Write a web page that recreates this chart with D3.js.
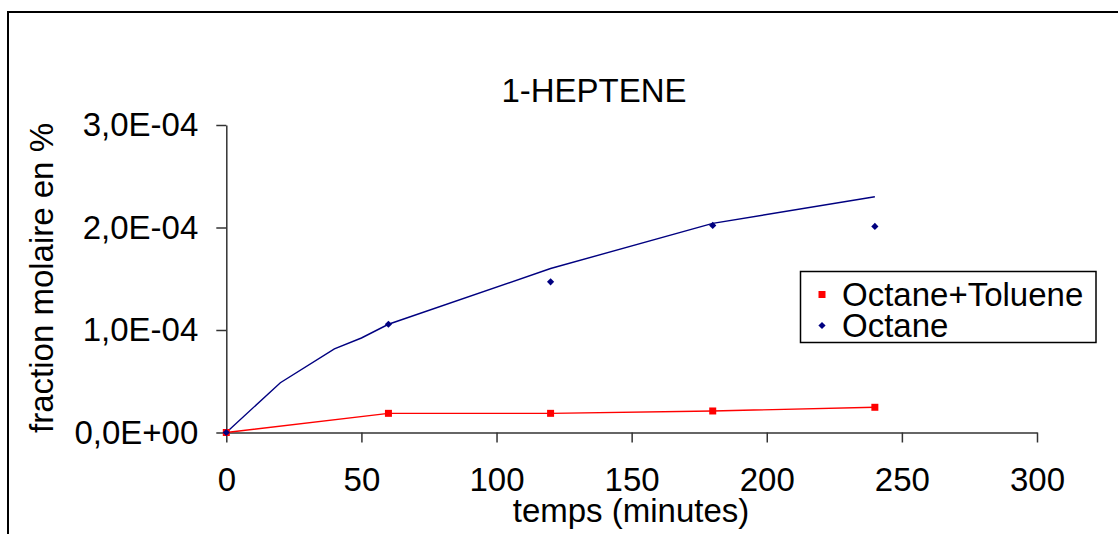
<!DOCTYPE html>
<html>
<head>
<meta charset="utf-8">
<script src="https://cdn.jsdelivr.net/npm/d3@7"></script>
<style>
  html, body { margin: 0; padding: 0; background: #fff; }
  svg { display: block; }
  text { font-family: "Liberation Sans", Arial, sans-serif; fill: #000; }
</style>
</head>
<body>
<svg id="chart" width="1118" height="534"></svg>
<script>
// ---- data ----
const chartTitle = "1-HEPTENE";
const xAxisTitle = "temps (minutes)";
const yAxisTitle = "fraction molaire en %";
const seriesNames = ["Octane+Toluene", "Octane"];

const timeMeasured = [0, 60, 120, 180, 240];
const octaneToluene = [0, 1.87e-5, 1.87e-5, 2.1e-5, 2.46e-5];
const octane = [0, 1.056e-4, 1.47e-4, 2.02e-4, 2.01e-4];

const modelTime = [0, 20, 40, 50, 60, 120, 180, 240];
const octaneModel = [0, 0.486e-4, 0.815e-4, 0.922e-4, 1.056e-4, 1.60e-4, 2.04e-4, 2.30e-4];

const xTickValues = [0, 50, 100, 150, 200, 250, 300];
const yTickValues = [0, 1e-4, 2e-4, 3e-4];
const yTickLabels = ["0,0E+00", "1,0E-04", "2,0E-04", "3,0E-04"];

// ---- drawing ----
const svg = d3.select("#chart");
const FONT = 33;

// outer frame (top + left)
svg.append("path")
  .attr("d", "M8,534 L8,12 L1118,12")
  .attr("fill", "none").attr("stroke", "#000").attr("stroke-width", 2);

const x = d3.scaleLinear().domain([0, 300]).range([226.3, 1037]);
const y = d3.scaleLinear().domain([0, 3e-4]).range([432.5, 125]);

// axes
const xAxis = d3.axisBottom(x).tickValues(xTickValues).tickSize(10).tickSizeOuter(0).tickPadding(25);
const gx = svg.append("g").attr("transform", `translate(0,${y(0)})`).call(xAxis);
gx.select(".domain").attr("stroke", "#333").attr("stroke-width", 1.5);
gx.selectAll(".tick line").attr("stroke", "#333").attr("stroke-width", 1.5);
gx.selectAll(".tick text").style("font-size", FONT + "px").attr("fill", "#000")
  .attr("font-family", "Liberation Sans, Arial, sans-serif");

const yAxis = d3.axisLeft(y).tickValues(yTickValues)
  .tickFormat((d, i) => yTickLabels[i]).tickSize(10).tickSizeOuter(0).tickPadding(18);
const gy = svg.append("g").attr("transform", `translate(${x(0)},0)`).call(yAxis);
gy.select(".domain").attr("stroke", "#333").attr("stroke-width", 1.5);
gy.selectAll(".tick line").attr("stroke", "#333").attr("stroke-width", 1.5);
gy.selectAll(".tick text").style("font-size", FONT + "px").attr("fill", "#000")
  .attr("font-family", "Liberation Sans, Arial, sans-serif");

// titles
svg.append("text").attr("x", 594).attr("y", 102).attr("text-anchor", "middle")
  .style("font-size", FONT + "px").text(chartTitle);
svg.append("text").attr("x", 631).attr("y", 522).attr("text-anchor", "middle")
  .style("font-size", FONT + "px").text(xAxisTitle);
svg.append("text").attr("transform", "translate(53,278) rotate(-90)").attr("text-anchor", "middle")
  .style("font-size", FONT + "px").text(yAxisTitle);

// lines
const lineGen = d3.line().x(d => x(d[0])).y(d => y(d[1]));
svg.append("path")
  .datum(modelTime.map((t, i) => [t, octaneModel[i]]))
  .attr("d", lineGen).attr("fill", "none").attr("stroke", "#000080").attr("stroke-width", 1.4);
svg.append("path")
  .datum(timeMeasured.map((t, i) => [t, octaneToluene[i]]))
  .attr("d", lineGen).attr("fill", "none").attr("stroke", "#ff0000").attr("stroke-width", 1.4);

// markers
const sq = d3.symbol().type(d3.symbolSquare).size(49);
const dia = d3.symbol().type(d3.symbolSquare).size(26);
svg.append("g").selectAll("path")
  .data(timeMeasured.map((t, i) => [t, octaneToluene[i]]))
  .join("path").attr("d", sq)
  .attr("transform", d => `translate(${x(d[0])},${y(d[1])})`).attr("fill", "#ff0000");
svg.append("g").selectAll("path")
  .data(timeMeasured.map((t, i) => [t, octane[i]]))
  .join("path").attr("d", dia)
  .attr("transform", d => `translate(${x(d[0])},${y(d[1])}) rotate(45)`).attr("fill", "#000080");

// legend
const lg = svg.append("g");
lg.append("rect").attr("x", 800.5).attr("y", 271.5).attr("width", 295.5).attr("height", 71)
  .attr("fill", "#fff").attr("stroke", "#000").attr("stroke-width", 1.5);
const legendColors = ["#ff0000", "#000080"];
const legendSymbols = [sq, dia];
const legendRot = [0, 45];
const legendY = [294.5, 325.5];
seriesNames.forEach((name, i) => {
  lg.append("path").attr("d", legendSymbols[i])
    .attr("transform", `translate(822,${legendY[i]}) rotate(${legendRot[i]})`).attr("fill", legendColors[i]);
});
const legendText = lg.append("text").style("font-size", FONT + "px");
seriesNames.forEach((name, i) => {
  legendText.append("tspan").attr("x", 842).attr("y", legendY[i] + 11).text(name);
});
</script>
</body>
</html>
